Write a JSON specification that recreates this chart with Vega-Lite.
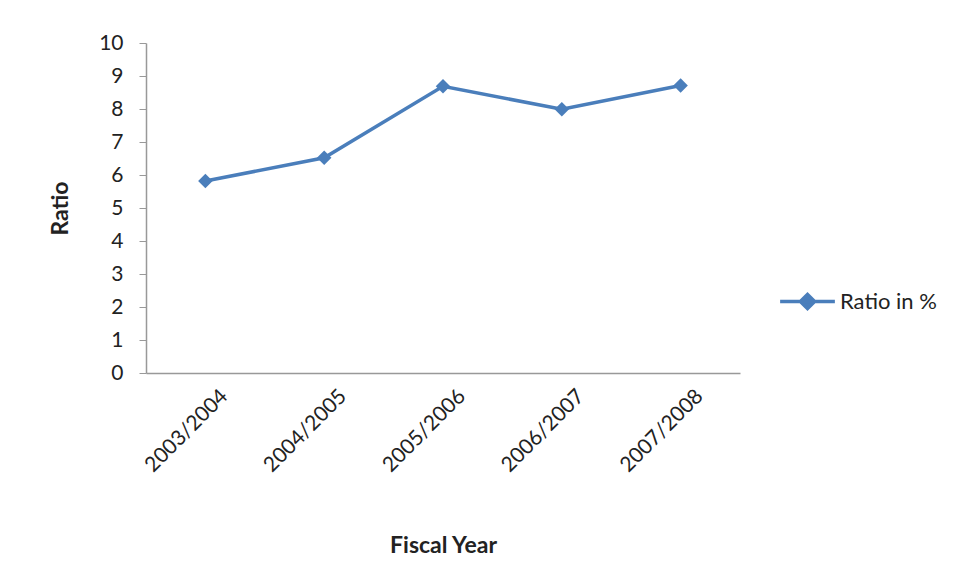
{
  "$schema": "https://vega.github.io/schema/vega-lite/v6.json",
  "width": 594,
  "height": 330,
  "autosize": {"type": "none"},
  "padding": {"left": 146, "top": 43, "right": 217, "bottom": 210},
  "background": "white",
  "config": {
    "view": {"stroke": null},
    "font": "Lato",
    "axis": {"labelFont": "Lato", "titleFont": "Lato", "labelColor": "#222", "titleColor": "#222"}
  },
  "data": {
    "values": [
      {"year": "2003/2004", "ratio": 5.82, "series": "Ratio in %"},
      {"year": "2004/2005", "ratio": 6.52, "series": "Ratio in %"},
      {"year": "2005/2006", "ratio": 8.69, "series": "Ratio in %"},
      {"year": "2006/2007", "ratio": 7.99, "series": "Ratio in %"},
      {"year": "2007/2008", "ratio": 8.71, "series": "Ratio in %"}
    ]
  },
  "mark": {"type": "line", "strokeWidth": 3.5, "point": {"shape": "diamond", "size": 210, "filled": true}},
  "encoding": {
    "x": {
      "field": "year",
      "type": "ordinal",
      "scale": {"type": "point", "padding": 0.5},
      "axis": {
        "title": "Fiscal Year",
        "titleFontSize": 23,
        "titleFontWeight": "bold",
        "titleY": 172,
        "titleBaseline": "middle",
        "labelAngle": -45,
        "labelFontSize": 21,
        "labelPadding": 12,
        "labelOffset": 11,
        "ticks": false,
        "domainColor": "#999",
        "domainWidth": 1.5,
        "grid": false
      }
    },
    "y": {
      "field": "ratio",
      "type": "quantitative",
      "scale": {"domain": [0, 10], "nice": false},
      "axis": {
        "title": "Ratio",
        "titleFontSize": 23,
        "titleFontWeight": "bold",
        "titleX": -86,
        "titleY": 165,
        "titleAngle": -90,
        "titleBaseline": "middle",
        "titleAlign": "center",
        "values": [0, 1, 2, 3, 4, 5, 6, 7, 8, 9, 10],
        "labelFontSize": 21,
        "labelPadding": 16,
        "tickSize": 7,
        "tickColor": "#999",
        "domainColor": "#999",
        "domainWidth": 1.5,
        "grid": false
      }
    },
    "color": {
      "field": "series",
      "type": "nominal",
      "scale": {"range": ["#4a7ebb"]},
      "legend": {
        "title": null,
        "orient": "none",
        "legendX": 632,
        "legendY": 229,
        "labelFontSize": 22,
        "labelFont": "Lato",
        "labelColor": "#222",
        "labelOffset": 3,
        "symbolType": "M-1,0H1M-0.26,0L0,-0.26L0.26,0L0,0.26Z",
        "symbolSize": 3000,
        "symbolStrokeWidth": 3.5,
        "symbolFillColor": "#4a7ebb",
        "symbolStrokeColor": "#4a7ebb"
      }
    }
  }
}
